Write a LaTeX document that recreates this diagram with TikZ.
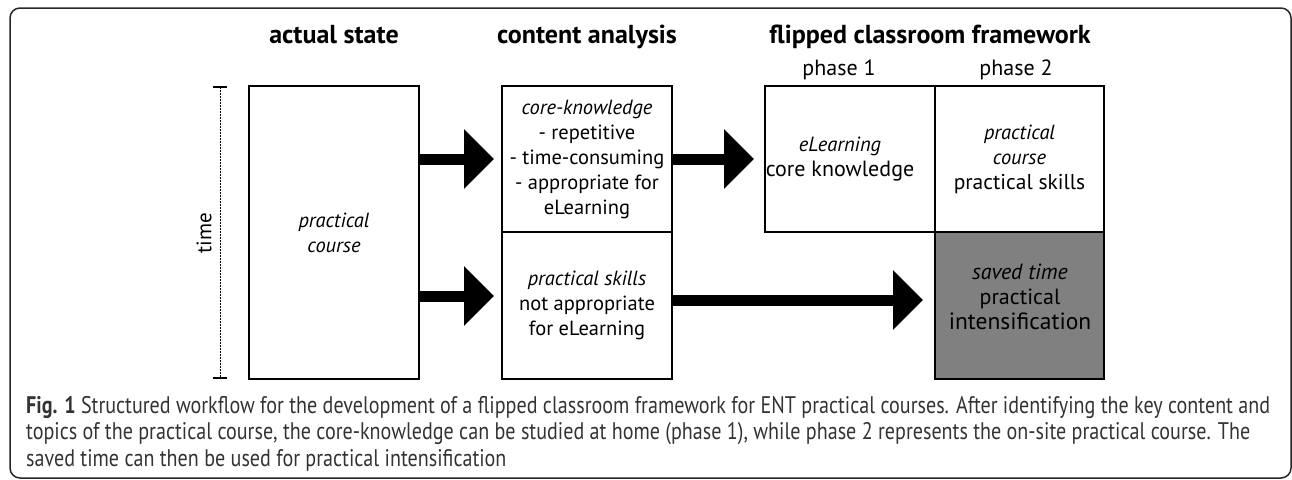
\documentclass[tikz,border=0pt]{standalone}
\usepackage{fontspec}
\setmainfont{PT Sans}
\usetikzlibrary{arrows.meta}
\definecolor{savedgrey}{RGB}{128,128,128}
\definecolor{capgrey}{RGB}{51,51,51}
\newcommand{\capline}[1]{\scalebox{0.837}[1]{#1}}
\begin{document}
\begin{tikzpicture}[x=1pt,y=-1pt,
  box/.style={draw=black,line width=2pt,inner sep=0pt,minimum width=170pt,align=center,
              font=\fontsize{20.5}{25}\selectfont},
  titletext/.style={font=\fontsize{26}{30}\selectfont\bfseries,anchor=base},
  phasetext/.style={font=\fontsize{22}{25}\selectfont,anchor=base},
  bigarrow/.style={line width=11pt,-{Triangle[length=30pt,width=58pt]}},
  captext/.style={anchor=base west,inner sep=0pt,text=capgrey,font=\fontsize{24}{26.5}\selectfont},
]
\useasboundingbox (0,0) rectangle (1292,479);
\draw[line width=1.5pt,rounded corners=10pt,draw=black!85] (10,8) rectangle (1291,478);

% titles
\node[titletext] (t1) at (334,43) {actual state};
\node[titletext] (t2) at (587,43) {content analysis};
\node[titletext] (t3) at (930,43) {flipped classroom framework};
\node[phasetext] (ph1) at (839,75) {phase 1};
\node[phasetext] (ph2) at (1016,75) {phase 2};

% boxes
\node[box,minimum height=293pt] (pc) at (334,232.5) {\textit{practical}\\\textit{course}};
\node[box,minimum height=146pt] (ck) at (587,159)
  {\textit{core-knowledge}\\- repetitive\\- time-consuming\\- appropriate for\\eLearning};
\node[box,minimum height=147pt] (ps) at (587,305.5)
  {\textit{practical skills}\\not appropriate\\for eLearning};
\node[box,minimum height=146pt] (p1) at (850,159)
  {\hspace*{-20pt}\begin{tabular}{@{}c@{}}\textit{eLearning}\\\fontsize{22}{25}\selectfont core knowledge\end{tabular}};
\node[box,minimum height=146pt,minimum width=169pt] (p2) at (1019.5,159)
  {\textit{practical}\\\textit{course}\\{\fontsize{21.5}{25}\selectfont practical skills}};
\node[box,minimum height=147pt,minimum width=169pt,fill=savedgrey] (st) at (1019.5,305.5) {};
\node[align=center,font=\fontsize{22}{25}\selectfont] (sttext) at (1020,297)
  {\textit{saved time}\\practical\\{\fontsize{23.5}{25}\selectfont intensification}};

% arrows
\draw[bigarrow] (pc.east |- ck.center) -- ([xshift=-7pt]ck.west);
\draw[bigarrow] ([yshift=9.5pt]pc.east |- ps.center) -- ([xshift=-7pt,yshift=9.5pt]ps.west);
\draw[bigarrow] (ck.east) -- ([xshift=-10pt]p1.west);
\draw[bigarrow] ([yshift=5.5pt]ps.east) -- ([xshift=-11pt,yshift=5.5pt]st.west);

% time scale
\draw[line width=1pt,dash pattern=on 2pt off 1pt] (220,87) -- (220,378);
\draw[line width=2pt] (213,87) -- (227,87);
\draw[line width=2pt] (213,378) -- (227,378);
\node[rotate=90,font=\fontsize{21}{25}\selectfont] (time) at (204,233) {time};

% caption
\node[captext] (cap1) at (26,413) {\capline{\textbf{Fig. 1} Structured workflow for the development of a flipped classroom framework for ENT practical courses. After identifying the key content and}};
\node[captext] (cap2) at (26,439.5) {\capline{topics of the practical course, the core-knowledge can be studied at home (phase 1), while phase 2 represents the on-site practical course. The}};
\node[captext] (cap3) at (26,466) {\capline{saved time can then be used for practical intensification}};
\end{tikzpicture}
\end{document}
